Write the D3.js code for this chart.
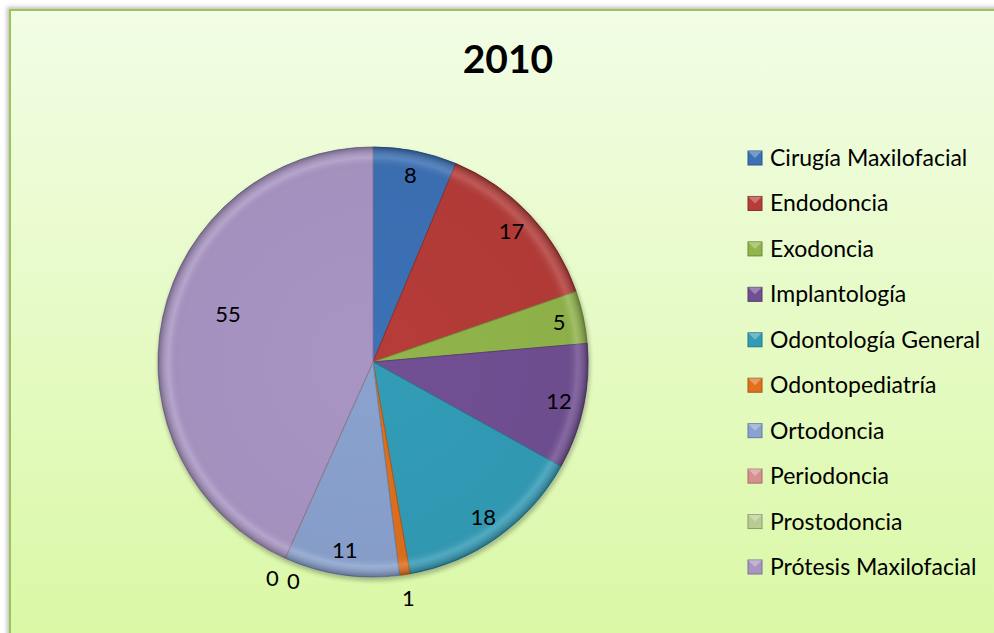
<!DOCTYPE html>
<html><head><meta charset="utf-8">
<script src="https://cdn.jsdelivr.net/npm/d3@7"></script>
<style>
html,body{margin:0;padding:0;background:#fff;}
svg{display:block;font-family:Lato,"Open Sans",sans-serif;}
</style></head>
<body>
<svg id="c" width="994" height="633"></svg>
<script>
const title = "2010";
const categories = ["Cirugía Maxilofacial","Endodoncia","Exodoncia","Implantología","Odontología General","Odontopediatría","Ortodoncia","Periodoncia","Prostodoncia","Prótesis Maxilofacial"];
const values = [8,17,5,12,18,1,11,0,0,55];
const colors = ["#3c71b6","#b63c38","#91b54b","#714f93","#329cb7","#e0701c","#8aa2cf","#d6908e","#b9cd92","#a995c4"];

const svg = d3.select("#c");
const W = 994, H = 633;
const defs = svg.append("defs");

const bg = defs.append("linearGradient").attr("id","bg").attr("x1",0).attr("y1",0).attr("x2",0).attr("y2",1);
bg.append("stop").attr("offset","0%").attr("stop-color","#f2fde5");
bg.append("stop").attr("offset","100%").attr("stop-color","#d9f8a3");

const sh = defs.append("filter").attr("id","sh").attr("x","-5%").attr("y","-5%").attr("width","110%").attr("height","110%");
sh.append("feDropShadow").attr("dx",-2).attr("dy",-2).attr("stdDeviation",2).attr("flood-color","#000").attr("flood-opacity",0.25);

svg.append("rect").attr("x",10).attr("y",10).attr("width",W+20).attr("height",H+20)
  .attr("fill","url(#bg)").attr("stroke","#9bc45a").attr("stroke-width",2).attr("filter","url(#sh)");

svg.append("text").attr("x",508).attr("y",73).attr("text-anchor","middle")
  .attr("font-size",39).attr("font-weight","bold").attr("fill","#000").text(title);

// pie
const cx = 373, cy = 362, R = 215;
const pie = d3.pie().sort(null).value(d=>d)(values);
const arc = d3.arc().innerRadius(0).outerRadius(R);
const g = svg.append("g").attr("transform",`translate(${cx},${cy})`);

const rg = defs.append("radialGradient").attr("id","bev").attr("gradientUnits","userSpaceOnUse")
  .attr("cx",0).attr("cy",0).attr("r",R);
rg.append("stop").attr("offset","0%").attr("stop-color","#000").attr("stop-opacity",0);
rg.append("stop").attr("offset","90%").attr("stop-color","#000").attr("stop-opacity",0.03);
rg.append("stop").attr("offset","95%").attr("stop-color","#fff").attr("stop-opacity",0.14);
rg.append("stop").attr("offset","100%").attr("stop-color","#000").attr("stop-opacity",0.3);

defs.append("filter").attr("id","blur").append("feGaussianBlur").attr("stdDeviation",2);
g.append("circle").attr("cx",1).attr("cy",3).attr("r",R+1).attr("fill","#000").attr("opacity",0.25)
  .attr("filter","url(#blur)");

g.selectAll("path.s").data(pie).join("path").attr("class","s")
  .attr("d",arc).attr("fill",(d,i)=>colors[i])
  .attr("stroke",(d,i)=>d3.color(colors[i]).darker(0.6)).attr("stroke-width",1);
g.selectAll("path.b").data(pie).join("path").attr("class","b")
  .attr("d",arc).attr("fill","url(#bev)");

// labels
const total = d3.sum(values);
let zeroIdx = 0;
pie.forEach((d,i)=>{
  let a = (d.startAngle+d.endAngle)/2;
  let r, dx = 0, dy = 0;
  if (d.value === 0) { r = R*1.1; dx = zeroIdx===0 ? -4 : 17; dy = zeroIdx===0 ? 0 : 3; zeroIdx++; }
  else if (d.value/total < 0.02) r = R*1.11;
  else if (d.value/total > 0.3) { r = R*0.71; a += 0.11; }
  else r = R*0.885;
  const x = Math.sin(a)*r + dx, y = -Math.cos(a)*r + dy;
  g.append("text").attr("x",x).attr("y",y).attr("dy","0.35em").attr("text-anchor","middle")
    .attr("font-size",22).attr("fill","#000").text(values[i]);
});

// legend
const ly = d3.scalePoint().domain(categories).range([158,567]);
const lg = svg.append("g");
categories.forEach((c,i)=>{
  const y = ly(c);
  const col = d3.color(colors[i]);
  lg.append("rect").attr("x",748).attr("y",y-7).attr("width",14).attr("height",14).attr("fill",colors[i])
    .attr("stroke",col.darker(0.8)).attr("stroke-width",1);
  lg.append("path").attr("d",`M748,${y-7} L762,${y-7} L755,${y} Z`).attr("fill","#fff").attr("opacity",0.3);
  lg.append("text").attr("x",770).attr("y",y).attr("dy","0.35em").attr("font-size",23).attr("fill","#000").text(c);
});
</script>
</body></html>
